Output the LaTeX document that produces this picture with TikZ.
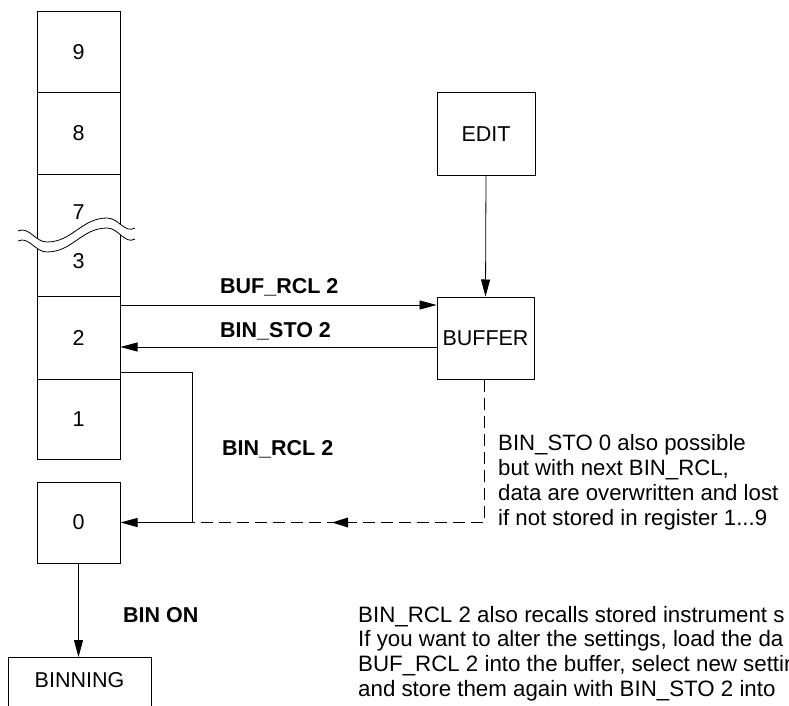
\documentclass[tikz,border=0pt]{standalone}
\usepackage{fontspec}
\setmainfont{Liberation Sans}
\usetikzlibrary{arrows.meta,calc}
\newcommand\myfs{\fontsize{21.5}{24.8}\selectfont}
\newcommand\mynotefs{\fontsize{22.2}{24.8}\selectfont}
\newcommand\myparfs{\fontsize{22.3}{24.8}\selectfont}
\begin{document}
\begin{tikzpicture}[x=1pt,y=-1pt,
  reg/.style={draw, line width=1pt, minimum width=83pt, inner sep=0pt, font=\myfs},
  plain/.style={font=\myfs, inner sep=0pt},
  lbl/.style={font=\bfseries\myfs, anchor=base west, inner sep=0pt},
  txt/.style={font=\mynotefs, anchor=base west, inner sep=0pt},
  partxt/.style={font=\myparfs, anchor=base west, inner sep=0pt},
  conn/.style={line width=0.8pt},
  arr/.style={conn, -{Triangle[length=17pt,width=9pt]}},
  dashconn/.style={conn, dash pattern=on 12pt off 6pt}]
\useasboundingbox (0,0) rectangle (789,706);
\clip (0,0) rectangle (789,706);

% register column
\node[reg, minimum height=81pt] (r9) at (78.5,52.5) {9};
\node[reg, minimum height=81pt] (r8) at (78.5,133.5) {8};
\node[reg, minimum height=122pt] (r73) at (78.5,235) {};
\node[plain] (n7) at (78.5,212) {7};
\node[plain] (n3) at (78.5,261) {3};
\node[reg, minimum height=83pt] (r2) at (78.5,337.5) {2};
\node[reg, minimum height=80pt] (r1) at (78.5,419) {1};
\node[reg, minimum height=81pt] (r0) at (78.5,522.5) {0};

% break mark
\fill[white] (18,231) to[out=25,in=180] (47,242) to[out=0,in=180] (107,218) to[out=0,in=210] (135,228)
  -- (135,239) to[out=210,in=0] (107,228) to[out=180,in=0] (47,252) to[out=180,in=25] (18,241) -- cycle;
\draw[conn] (18,231) to[out=25,in=180] (47,242) to[out=0,in=180] (107,218) to[out=0,in=210] (135,228);
\draw[conn] (18,241) to[out=25,in=180] (47,252) to[out=0,in=180] (107,228) to[out=0,in=210] (135,239);

% other boxes
\node[reg, minimum width=98pt, minimum height=82pt] (edit) at (486,134) {EDIT};
\node[reg, minimum width=97pt, minimum height=82pt] (buffer) at (485.5,338) {BUFFER};
\node[reg, minimum width=143pt, minimum height=83pt, anchor=north] (binning) at (79.5,657) {};
\node[plain] (binlbl) at (79.5,680) {BINNING};

% connectors
\draw[arr] (r2.east |- 0,305) -- (buffer.west |- 0,305);
\draw[arr] (buffer.west |- 0,347) -- (r2.east |- 0,347);
\draw[dashconn] (buffer.south -| 484,0) -- (484,522.5) -- (192,522.5);
\fill (332,522.5) -- (348,517.5) -- (348,527.5) -- cycle;
\draw[arr] (r2.east |- 0,372) -- (192,372) -- (192,522.5) -- (r0.east);
\draw[arr] (edit.south) -- (buffer.north);
\draw[arr] (r0.south) -- (binning.north -| r0.south);

% labels
\node[lbl] (lbufrcl) at (220,293) {BUF\_RCL 2};
\node[lbl] (lbinsto) at (220,337) {BIN\_STO 2};
\node[lbl] (lbinrcl) at (222,455) {BIN\_RCL 2};
\node[lbl] (lbinon) at (123,622) {BIN ON};

% note near buffer
\node[txt] (na) at (498,450) {BIN\_STO 0 also possible};
\node[txt] (nb) at (498,475) {but with next BIN\_RCL,};
\node[txt] (nc) at (498,500) {data are overwritten and lost};
\node[txt] (nd) at (498,525) {if not stored in register 1...9};

% paragraph (cut at the right edge as in the reference)
\node[partxt] (pa) at (358,622) {BIN\_RCL 2 also recalls stored instrument s};
\node[partxt] (pb) at (358,646.5) {If you want to alter the settings, load the da};
\node[partxt] (pc) at (358,671) {BUF\_RCL 2 into the buffer, select new settin};
\node[partxt] (pd) at (358,696) {and store them again with BIN\_STO 2 into};
\end{tikzpicture}
\end{document}
